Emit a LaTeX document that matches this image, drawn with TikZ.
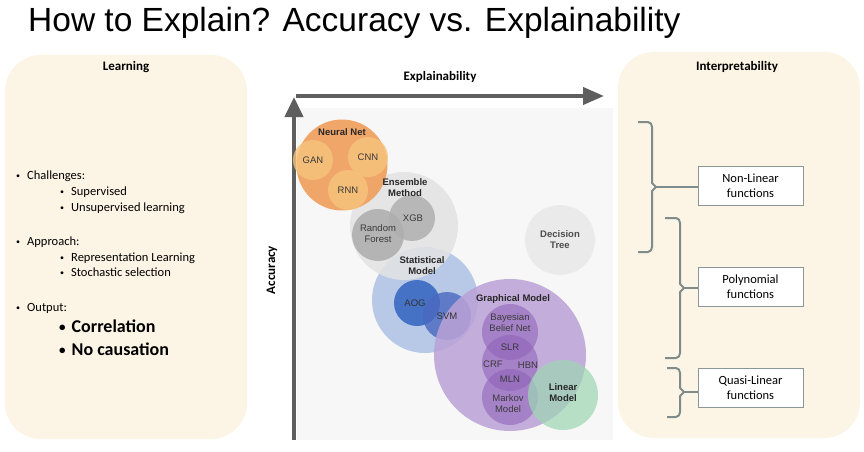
\documentclass[tikz,border=0pt]{standalone}
\usepackage{fontspec}
\setmainfont{Carlito}
\newfontfamily\arial{Liberation Sans}
\usetikzlibrary{arrows.meta}
\definecolor{cream}{HTML}{FCF5E5}
\definecolor{chartbg}{HTML}{F7F7F7}
\definecolor{nnbig}{HTML}{F0A262}
\definecolor{nnsmall}{HTML}{F6C47E}
\definecolor{ensbig}{HTML}{E3E3E3}
\definecolor{ensdark}{HTML}{AFAFAF}
\definecolor{dtree}{HTML}{EAEAEA}
\definecolor{statbig}{HTML}{B1C5E5}
\definecolor{aogc}{HTML}{4572C4}
\definecolor{svmc}{HTML}{4A68C0}
\definecolor{graphbig}{HTML}{BBA2D7}
\definecolor{graphin}{HTML}{8E5FB8}
\definecolor{linearc}{HTML}{9ED6B4}
\definecolor{axisgray}{HTML}{5E5E5E}
\definecolor{brk}{HTML}{7E8C8C}
\definecolor{lbl}{HTML}{3A3A3A}
\newcommand\smbul{\raisebox{0.1ex}{\fontsize{8}{8}\selectfont •}}
\newcommand\bgbul{\raisebox{0.1ex}{\fontsize{13}{13}\selectfont •}}
\tikzset{
  panel/.style={fill=cream, draw=none, rounded corners=36pt},
  bubble/.style={circle, inner sep=0pt, draw=none, minimum size=#1},
  clabel/.style={font=\arial\fontsize{9.5}{11}\selectfont, text=lbl, align=center},
  blabel/.style={font=\arial\bfseries\fontsize{9.5}{11}\selectfont, text=black!85, align=center},
  fbox/.style={draw=brk!90, line width=0.9pt, fill=white, minimum width=105pt, minimum height=39pt, inner sep=0pt, align=center, font=\fontsize{12.5}{15}\selectfont},
  brace/.style={draw=brk, line width=2pt, line join=round},
  axis/.style={draw=axisgray, line width=4pt},
  txt/.style={anchor=base west, font=\fontsize{12.5}{15}\selectfont, inner sep=0pt},
  bigtxt/.style={anchor=base west, font=\bfseries\fontsize{18}{21}\selectfont, inner sep=0pt},
  head/.style={font=\bfseries\fontsize{13}{15}\selectfont, inner sep=0pt}
}
\begin{document}
\begin{tikzpicture}[x=1pt,y=-1pt]
\useasboundingbox (0,0) rectangle (864,452);
\fill[white] (0,0) rectangle (864,452);

% title
\node[anchor=base west, inner sep=0pt, font=\arial\fontsize{33.5}{36}\selectfont] (title) at (28,32) {How to Explain? Accuracy vs. Explainability};

% panels
\node[panel, minimum width=242pt, minimum height=384pt, inner sep=0pt] (lp) at (126,247) {};
\node[panel, minimum width=242pt, minimum height=386pt, inner sep=0pt] (rp) at (739,245) {};
\node[head] (learn) at (126,67) {Learning};
\node[head] (interp) at (737,67) {Interpretability};

% left bullets
\node[txt] (b1) at (16,179) {\smbul\hspace{7pt}Challenges:};
\node[txt] (b1a) at (60,195) {\smbul\hspace{7pt}Supervised};
\node[txt] (b1b) at (60,211) {\smbul\hspace{7pt}Unsupervised learning};
\node[txt] (b2) at (16,245) {\smbul\hspace{7pt}Approach:};
\node[txt] (b2a) at (60,261) {\smbul\hspace{7pt}Representation Learning};
\node[txt] (b2b) at (60,276) {\smbul\hspace{7pt}Stochastic selection};
\node[txt] (b3) at (16,311) {\smbul\hspace{7pt}Output:};
\node[bigtxt] (b3a) at (59,332) {\bgbul\hspace{6pt}Correlation};
\node[bigtxt] (b3b) at (59,355) {\bgbul\hspace{6pt}No causation};

% chart background
\fill[chartbg] (297,108) rectangle (613,440);

% axes
\coordinate (ybot) at (294,440);
\coordinate (ytop) at (294,97);
\coordinate (xleft) at (296,96);
\coordinate (xright) at (604,96);
\draw[axis, -{Triangle[length=20pt,width=18pt]}] (ybot) -- (ytop);
\draw[axis, -{Triangle[length=21pt,width=17pt]}] (xleft) -- (xright);
\node[head] (xl) at (440,77) {Explainability};
\node[head, rotate=90] (yl) at (272,270) {Accuracy};

% statistical model
\node[bubble=106pt, fill=statbig, fill opacity=0.9] (stat) at (425,300) {};
% ensemble
\node[bubble=108pt, fill=ensbig, fill opacity=0.85] (ens) at (404,226) {};
\node[bubble=46pt, fill=aogc] (aog) at (417,303) {};
\node[bubble=48pt, fill=svmc, fill opacity=0.8] (svm) at (447,316) {};
\node[bubble=46pt, fill=ensdark, fill opacity=0.85] (xgb) at (412,218) {};
\node[bubble=52pt, fill=ensdark, fill opacity=0.9] (rf) at (378,235) {};
% neural net
\node[bubble=91pt, fill=nnbig, fill opacity=0.95] (nn) at (342,165) {};
\node[bubble=40pt, fill=nnsmall, fill opacity=0.8] (gan) at (313,160) {};
\node[bubble=40pt, fill=nnsmall, fill opacity=0.8] (cnn) at (368,157) {};
\node[bubble=40pt, fill=nnsmall, fill opacity=0.8] (rnn) at (348,190) {};
% decision tree
\node[bubble=70pt, fill=dtree] (dt) at (560,240) {};
% graphical model
\node[bubble=152pt, fill=graphbig, fill opacity=0.85] (gm) at (510,355) {};
\node[bubble=56pt, fill=graphin, fill opacity=0.55] (bbn) at (510,332) {};
\node[bubble=56pt, fill=graphin, fill opacity=0.55] (mid) at (510,363) {};
\node[bubble=56pt, fill=graphin, fill opacity=0.55] (mm) at (510,397) {};
% linear
\node[bubble=70pt, fill=linearc, fill opacity=0.72] (lin) at (563,395) {};

% labels
\node[blabel] at (342,132) {Neural Net};
\node[clabel] at (313,160) {GAN};
\node[clabel] at (368,157) {CNN};
\node[clabel] at (348,190) {RNN};
\node[blabel] at (405,188) {Ensemble\\Method};
\node[clabel] at (413,218) {XGB};
\node[clabel] at (378,234) {Random\\Forest};
\node[blabel, text=black!70] at (560,240) {Decision\\Tree};
\node[blabel] at (422,266) {Statistical\\Model};
\node[clabel, text=black!80] at (415,303) {AOG};
\node[clabel, text=black!80] at (447,316) {SVM};
\node[blabel] at (513,299) {Graphical Model};
\node[clabel] at (510,323) {Bayesian\\Belief Net};
\node[clabel] at (510,347) {SLR};
\node[clabel] at (493,364) {CRF};
\node[clabel] at (528,365) {HBN};
\node[clabel] at (510,379) {MLN};
\node[clabel] at (508,404) {Markov\\Model};
\node[blabel] at (563,393) {Linear\\Model};

% interpretability boxes
\node[fbox] (nl) at (750.5,185.5) {Non-Linear\\functions};
\node[fbox] (poly) at (750.5,286.5) {Polynomial\\functions};
\node[fbox] (quasi) at (750.5,387.5) {Quasi-Linear\\functions};

% braces
\coordinate (t1) at (656,187);
\coordinate (t2) at (684,288);
\coordinate (t3) at (684,392);
\draw[brace] (638,122) -- (648,122) to[out=0,in=90] (652,127) -- (652,183) -- (t1) -- (652,191) -- (652,247) to[out=-90,in=0] (648,252) -- (638,252);
\draw[brace] (665,218) -- (676,218) to[out=0,in=90] (680,223) -- (680,284) -- (t2) -- (680,292) -- (680,353) to[out=-90,in=0] (676,358) -- (665,358);
\draw[brace] (667,368) -- (676,368) to[out=0,in=90] (680,373) -- (680,388) -- (t3) -- (680,396) -- (680,412) to[out=-90,in=0] (676,417) -- (667,417);
\draw[brace] (t1) -- (t1 -| nl.west);
\draw[brace] (t2) -- (t2 -| poly.west);
\draw[brace] (t3) -- (t3 -| quasi.west);
\end{tikzpicture}
\end{document}
